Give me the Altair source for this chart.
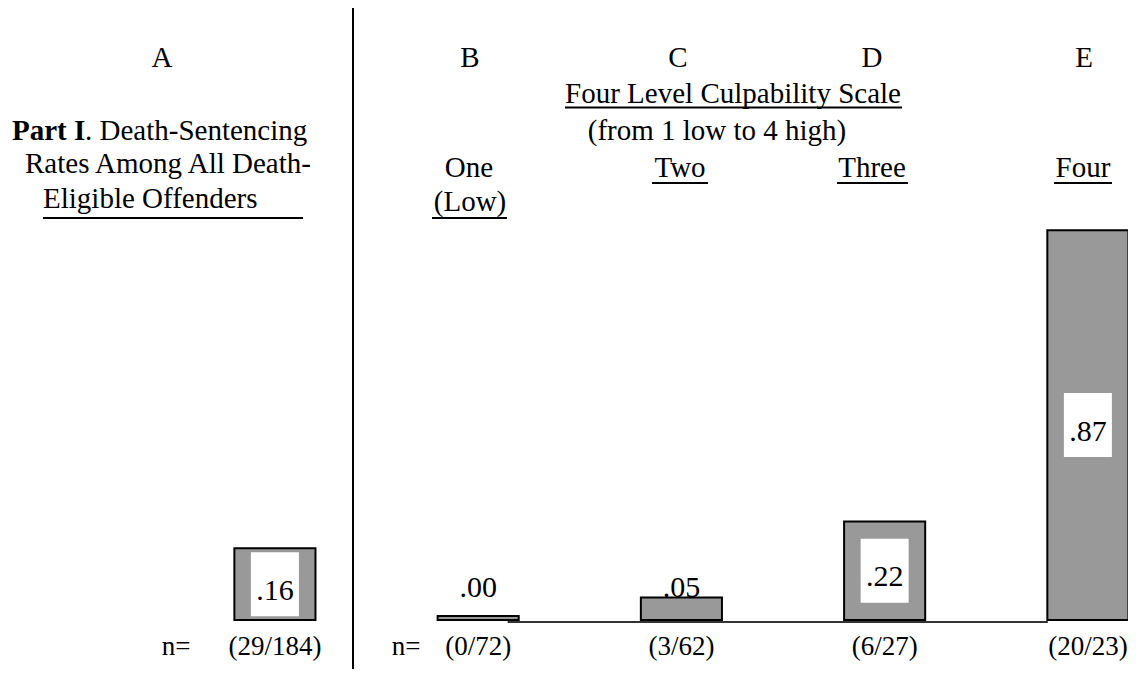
import altair as alt
import pandas as pd

# ---- data ----
categories = ["A", "B", "C", "D", "E"]
rates = [0.16, 0.00, 0.05, 0.22, 0.87]
n_labels = ["(29/184)", "(0/72)", "(3/62)", "(6/27)", "(20/23)"]
label_inside = [True, False, False, True, True]

FONT = "Liberation Serif"
OFF = 8  # page margin

df = pd.DataFrame({
    "cat": categories,
    "rate": rates,
    "n": n_labels,
    "inside": label_inside,
})

xscale = alt.Scale(domain=categories, range=[165.4, 1181.4],
                   paddingInner=0.601, paddingOuter=0.3)
yscale = alt.Scale(domain=[0, 1], range=[612, 164], zero=False, nice=False)

X = alt.X("cat:N", scale=xscale, axis=None)

base = alt.Chart(df).transform_calculate(
    rate_draw="max(datum.rate, 0.009)",
    mid="datum.rate / 2",
    zero="0",
    lbl="substring(format(datum.rate, '.2f'), 1)",
)

bars = base.mark_bar(color="#999999", stroke="black", strokeWidth=2).encode(
    x=X,
    y=alt.Y("rate_draw:Q", scale=yscale, axis=None),
    y2=alt.Y2("zero:Q"),
)

boxes = base.transform_filter("datum.inside").mark_bar(
    color="white", width=48, yOffset=32, y2Offset=-32
).encode(
    x=X,
    y=alt.Y("mid:Q", scale=yscale, axis=None),
    y2=alt.Y2("mid:Q"),
)

in_text = base.transform_filter("datum.inside").mark_text(
    font=FONT, fontSize=30, color="black", baseline="alphabetic", dy=15.5
).encode(
    x=X,
    y=alt.Y("mid:Q", scale=yscale, axis=None),
    text="lbl:N",
)

out_text = base.transform_filter("!datum.inside").mark_text(
    font=FONT, fontSize=30, color="black", baseline="alphabetic", dy=-23
).encode(
    x=X,
    y=alt.Y("zero:Q", scale=yscale, axis=None),
    text="lbl:N",
)

n_text = base.mark_text(
    font=FONT, fontSize=27, color="black", baseline="alphabetic", dy=35
).encode(
    x=X,
    y=alt.Y("zero:Q", scale=yscale, axis=None),
    text="n:N",
)

baseline_rule = base.transform_filter("datum.cat == 'B'").transform_calculate(
    endcat="'E'"
).mark_rule(
    color="#333333", strokeWidth=2, xOffset=29.5, x2Offset=-40, yOffset=2, y2Offset=2
).encode(
    x=X,
    x2=alt.X2("endcat:N"),
    y=alt.Y("zero:Q", scale=yscale, axis=None),
)


def label(text, x, y, size=29, align="center", weight="normal"):
    return alt.Chart(alt.Data(values=[{}])).mark_text(
        text=text, align=align, baseline="alphabetic", font=FONT,
        fontSize=size, fontWeight=weight, color="black"
    ).encode(x=alt.value(x - OFF), y=alt.value(y - OFF))


def hline(x1, x2, y, w=2, color="black"):
    return alt.Chart(alt.Data(values=[{}])).mark_rule(
        color=color, strokeWidth=w
    ).encode(x=alt.value(x1 - OFF), x2=alt.value(x2 - OFF), y=alt.value(y - OFF))


divider = alt.Chart(alt.Data(values=[{}])).mark_rule(
    color="black", strokeWidth=2
).encode(x=alt.value(353 - OFF), y=alt.value(5 - OFF), y2=alt.value(690))

annotations = [
    label("A", 162, 67), label("B", 470, 67), label("C", 678, 67),
    label("D", 872, 67), label("E", 1084, 67),
    label("Four Level Culpability Scale", 733, 103),
    hline(565, 902, 107.5),
    label("(from 1 low to 4 high)", 717, 140),
    label("Part I", 12, 140, align="left", weight="bold"),
    label(". Death-Sentencing", 85, 140, align="left"),
    label("Rates Among All Death-", 25, 173, align="left"),
    label("Eligible Offenders", 43, 208, align="left"),
    hline(43, 303, 218),
    label("One", 469, 177),
    label("Two", 680, 177), hline(652, 708, 183),
    label("Three", 872, 177), hline(837, 908, 183),
    label("Four", 1083, 177), hline(1054, 1112, 183),
    label("(Low)", 470, 211), hline(432, 507, 218),
    label("n=", 176, 655, size=27),
    label("n=", 406, 655, size=27),
]

chart = alt.layer(
    baseline_rule, bars, boxes, in_text, out_text, n_text, divider, *annotations
).properties(
    width=1120, height=661, autosize=alt.AutoSizeParams(type="none"), padding=0
).configure_view(stroke=None)

chart.save("out.html", embed_options={"renderer": "svg", "actions": False})
